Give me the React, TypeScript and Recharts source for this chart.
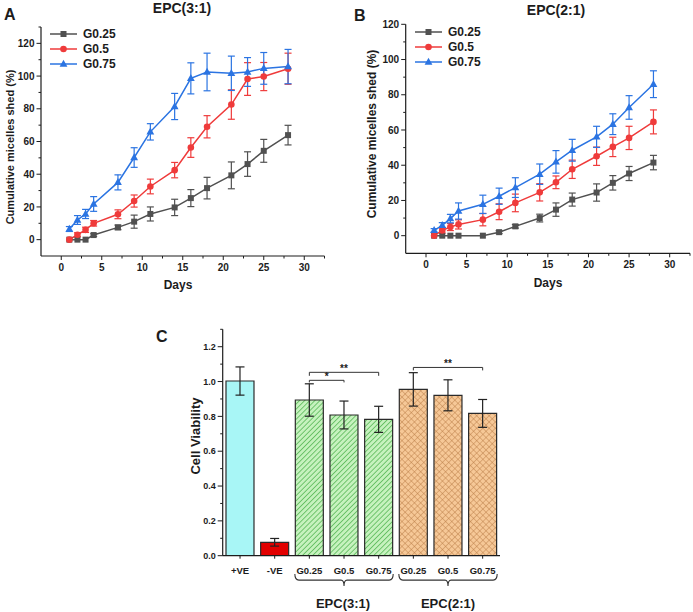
import React from "react";
import {
  LineChart,
  Line,
  XAxis,
  YAxis,
  ErrorBar,
  Legend,
  BarChart,
  Bar,
  Cell,
  ReferenceLine,
} from "recharts";

const FONT = '"Liberation Sans", Arial, sans-serif';
const INK = "#1c1c1c";

// ---- panels A / B : cumulative micelles shed ----
const DAYS = [1, 2, 3, 4, 7, 9, 11, 14, 16, 18, 21, 23, 25, 28];

const A_G025 = [0, 0, 0, 2.8, 7.5, 11, 15.7, 19.7, 25.4, 31.5, 39.3, 46.2, 54.3, 63.9];
const A_G025_ERR = [0, 0, 0, 0.8, 1.4, 4, 4.3, 5, 5.2, 6.6, 8.2, 7.5, 7, 6];
const A_G05 = [0, 3, 6, 10, 15.5, 23.6, 32.5, 42.5, 56.3, 69, 82.6, 98.2, 99.7, 104.5];
const A_G05_ERR = [0, 1.2, 1.6, 1.7, 2.7, 3.7, 4.5, 4.7, 6, 6.8, 9, 10, 8.6, 9.5];
const A_G075 = [6.5, 12, 15.7, 21.8, 35, 50.2, 65.9, 81.4, 98.6, 102.5, 101.7, 102.5, 104.7, 105.8];
const A_G075_ERR = [1.5, 2.7, 2.8, 4.5, 4.6, 6, 5, 8, 9.5, 11.5, 10.5, 8.8, 9.7, 10.5];

const B_G025 = [0, 0, 0, 0, 0, 2, 5.3, 10, 14.8, 20.5, 24.5, 30, 35.3, 41.5];
const B_G025_ERR = [0, 0, 0, 0, 0, 0.8, 1, 2.2, 3.8, 3.7, 4.9, 4.1, 4, 4.1];
const B_G05 = [0, 3, 4.9, 6.4, 9.1, 13.6, 18.6, 24.6, 30.3, 37.7, 45.1, 50.4, 55.5, 64.6];
const B_G05_ERR = [0, 1.5, 2, 2.6, 3.5, 4.5, 5, 4.9, 3.6, 5.2, 5.2, 5.5, 6.6, 6.8];
const B_G075 = [3, 5.9, 9.7, 14, 17.8, 22.4, 27.3, 34.9, 41.9, 48.5, 56.1, 63.3, 72.8, 86];
const B_G075_ERR = [1, 1.5, 2.4, 4.6, 5.2, 4.6, 5.6, 5.8, 6.4, 6.2, 6, 5.9, 6.7, 7.6];

const X_TICKS = [0, 2.5, 5, 7.5, 10, 12.5, 15, 17.5, 20, 22.5, 25, 27.5, 30, 32.5];
const A_Y_TICKS = [0, 10, 20, 30, 40, 50, 60, 70, 80, 90, 100, 110, 120, 130];
const B_Y_TICKS = [0, 10, 20, 30, 40, 50, 60, 70, 80, 90, 100, 110, 120];

const SERIES = [
  { key: "g25", name: "G0.25", color: "#515151", shape: "square" },
  { key: "g50", name: "G0.5", color: "#EF3B3B", shape: "circle" },
  { key: "g75", name: "G0.75", color: "#2B74E2", shape: "triangle" },
];

// ---- panel C : cell viability ----
const C_KEYS = ["pos", "neg", "a25", "a50", "a75", "b25", "b50", "b75"];
const C_LABELS = ["+VE", "-VE", "G0.25", "G0.5", "G0.75", "G0.25", "G0.5", "G0.75"];
const C_VALUES = [1.003, 0.077, 0.894, 0.808, 0.783, 0.955, 0.921, 0.817];
const C_ERRORS = [0.081, 0.022, 0.093, 0.08, 0.075, 0.096, 0.089, 0.08];
const C_FILLS = [
  "#A8F6F6",
  "#E20000",
  "url(#hatchGreen)",
  "url(#hatchGreen)",
  "url(#hatchGreen)",
  "url(#hatchOrange)",
  "url(#hatchOrange)",
  "url(#hatchOrange)",
];
const C_Y_TICKS = [0, 0.1, 0.2, 0.3, 0.4, 0.5, 0.6, 0.7, 0.8, 0.9, 1, 1.1, 1.2, 1.3];

const SIG = [
  { from: "a25", to: "a75", y: 1.053, drop: 0.02, text: "**" },
  { from: "a25", to: "a50", y: 1.007, drop: 0.012, text: "*" },
  { from: "b25", to: "b75", y: 1.081, drop: 0.017, text: "**" },
];
// group braces under the axis, spanning first..last bar of each group
const GROUPS = [
  { from: "a25", to: "a75", name: "EPC(3:1)" },
  { from: "b25", to: "b75", name: "EPC(2:1)" },
];
const BRACE_Y = -0.14;

function Marker({ shape, cx, cy, color }: any) {
  if (shape === "square") return <rect x={cx - 3} y={cy - 3} width={6} height={6} fill={color} />;
  if (shape === "circle") return <circle cx={cx} cy={cy} r={3.3} fill={color} />;
  return (
    <polygon
      points={`${cx},${cy - 4.3} ${cx + 3.9},${cy + 2.7} ${cx - 3.9},${cy + 2.7}`}
      fill={color}
    />
  );
}

const bottomTick =
  (isMajor: (v: any) => boolean, fmt: (v: any) => string, size: number, dy: number, majorLen = 4, minorLen = 2.5) =>
  (props: any) => {
    const { x, y, payload } = props;
    const major = isMajor(payload.value);
    return (
      <g>
        <line x1={x} x2={x} y1={y} y2={y + (major ? majorLen : minorLen)} stroke={INK} strokeWidth={1} />
        {major && (
          <text x={x} y={y + dy} textAnchor="middle" fontSize={size} fontWeight="bold" fill={INK} fontFamily={FONT}>
            {fmt(payload.value)}
          </text>
        )}
      </g>
    );
  };

const leftTick =
  (isMajor: (v: any) => boolean, fmt: (v: any) => string, size: number, gap: number, majorLen = 4.5, minorLen = 2.5) =>
  (props: any) => {
    const { x, y, payload } = props;
    const major = isMajor(payload.value);
    return (
      <g>
        <line x1={x - (major ? majorLen : minorLen)} x2={x} y1={y} y2={y} stroke={INK} strokeWidth={1} />
        {major && (
          <text x={x - gap} y={y + size * 0.36} textAnchor="end" fontSize={size} fontWeight="bold" fill={INK} fontFamily={FONT}>
            {fmt(payload.value)}
          </text>
        )}
      </g>
    );
  };

// brace drawn between two band centres, widened by half a bar on each side
const braceShape = (props: any) => {
  const { x1, x2, y1 } = props;
  const half = 14.5;
  const l = x1 - half;
  const r = x2 + half;
  const m = (x1 + x2) / 2;
  const y = y1;
  const d = `M${l},${y - 6} Q${l},${y} ${l + 4},${y} L${m - 3},${y} Q${m},${y} ${m},${y + 6} Q${m},${y} ${m + 3},${y} L${r - 4},${y} Q${r},${y} ${r},${y - 6}`;
  return <path d={d} fill="none" stroke="#333" strokeWidth={1.1} />;
};

function LegendBox() {
  return (
    <svg width={110} height={46} style={{ display: "block" }}>
      {SERIES.map((s, i) => (
        <g key={s.key} transform={`translate(0, ${i * 15 + 7})`}>
          <line x1={0} x2={27} y1={0} y2={0} stroke={s.color} strokeWidth={1.5} />
          <Marker shape={s.shape} cx={13.5} cy={0} color={s.color} />
          <text x={33} y={4.4} fontSize={12} fontWeight="bold" fill={INK} fontFamily={FONT}>
            {s.name}
          </text>
        </g>
      ))}
    </svg>
  );
}

function ShedPanel({ vals, errs, left, width, margin, yWidth, yDomain, yTicks, legendLeft, legendTop }: any) {
  const data = DAYS.map((d, i) => ({
    day: d,
    g25: vals[0][i],
    g25e: errs[0][i],
    g50: vals[1][i],
    g50e: errs[1][i],
    g75: vals[2][i],
    g75e: errs[2][i],
  }));
  return (
    <div style={{ position: "absolute", left, top: 0 }}>
      <LineChart width={width} height={300} data={data} margin={margin}>
        <XAxis
          dataKey="day"
          type="number"
          domain={[-2.5, 32.5]}
          allowDataOverflow
          ticks={X_TICKS}
          interval={0}
          height={30}
          tickSize={0}
          tickMargin={0}
          axisLine={{ stroke: INK, strokeWidth: 1.2 }}
          tickLine={false}
          tick={bottomTick((v) => v % 5 === 0, (v) => String(v), 10, 15)}
        />
        <YAxis
          type="number"
          domain={yDomain}
          allowDataOverflow
          ticks={yTicks}
          interval={0}
          width={yWidth}
          tickSize={0}
          tickMargin={0}
          axisLine={{ stroke: INK, strokeWidth: 1.2 }}
          tickLine={false}
          tick={leftTick((v) => v % 20 === 0, (v) => String(v), 10, 6.5)}
        />
        <Legend
          layout="vertical"
          align="center"
          verticalAlign="middle"
          wrapperStyle={{ left: legendLeft, top: legendTop, width: 110 }}
          content={() => <LegendBox />}
        />
        {SERIES.map((s) => (
          <Line
            key={s.key}
            dataKey={s.key}
            name={s.name}
            stroke={s.color}
            strokeWidth={1.5}
            isAnimationActive={false}
            activeDot={false}
            dot={(p: any) => <Marker key={`${s.key}-${p.index}`} shape={s.shape} cx={p.cx} cy={p.cy} color={s.color} />}
          >
            <ErrorBar dataKey={`${s.key}e`} direction="y" width={3.5} stroke={s.color} strokeWidth={1.2} />
          </Line>
        ))}
      </LineChart>
    </div>
  );
}

function ViabilityPanel() {
  const data = C_KEYS.map((k, i) => ({ key: k, label: C_LABELS[i], value: C_VALUES[i], err: C_ERRORS[i] }));
  const labelOf = (k: string) => C_LABELS[C_KEYS.indexOf(k)];
  const line = { stroke: "#333", strokeWidth: 1, ifOverflow: "visible" as const };
  return (
    <div style={{ position: "absolute", left: 150, top: 300 }}>
      <BarChart
        width={360}
        height={312}
        data={data}
        margin={{ top: 29.3, right: 10, bottom: 31.3, left: 0 }}
        barCategoryGap="9.5%"
      >
        <defs>
          <pattern id="hatchGreen" patternUnits="userSpaceOnUse" width="3.6" height="3.6" patternTransform="rotate(45)">
            <rect width="3.6" height="3.6" fill="#C6F2BE" />
            <line x1="0" y1="0" x2="0" y2="3.6" stroke="#52B552" strokeWidth="1.5" />
          </pattern>
          <pattern id="hatchOrange" patternUnits="userSpaceOnUse" width="4.4" height="4.4" patternTransform="rotate(45)">
            <rect width="4.4" height="4.4" fill="#F6C897" />
            <line x1="0" y1="0" x2="0" y2="4.4" stroke="#B97B45" strokeWidth="0.9" />
            <line x1="0" y1="0" x2="4.4" y2="0" stroke="#B97B45" strokeWidth="0.9" />
          </pattern>
        </defs>
        <XAxis
          dataKey="key"
          height={25}
          interval={0}
          tickSize={0}
          tickMargin={0}
          axisLine={{ stroke: INK, strokeWidth: 1.2 }}
          tickLine={false}
          tick={bottomTick(() => true, labelOf, 9.5, 18, 3, 3)}
        />
        <YAxis
          type="number"
          domain={[0, 1.3]}
          allowDataOverflow
          ticks={C_Y_TICKS}
          interval={0}
          width={72.7}
          tickSize={0}
          tickMargin={0}
          axisLine={{ stroke: INK, strokeWidth: 1.2 }}
          tickLine={false}
          tick={leftTick((v) => Math.round(v * 10) % 2 === 0, (v) => v.toFixed(1), 9, 7, 5, 2.5)}
        />
        <Bar dataKey="value" stroke="#2a2a2a" strokeWidth={1.2} isAnimationActive={false}>
          {data.map((d, i) => (
            <Cell key={d.key} fill={C_FILLS[i]} />
          ))}
          <ErrorBar dataKey="err" width={4.5} stroke="#222" strokeWidth={1.2} />
        </Bar>
        {SIG.map((s, i) => (
          <ReferenceLine
            key={`sig-${i}`}
            segment={[
              { x: s.from, y: s.y },
              { x: s.to, y: s.y },
            ]}
            {...line}
            label={{ value: s.text, position: "top", offset: 0, fontSize: 10, fontWeight: "bold", fill: INK, fontFamily: FONT }}
          />
        ))}
        {SIG.flatMap((s, i) =>
          [s.from, s.to].map((x) => (
            <ReferenceLine
              key={`sigd-${i}-${x}`}
              segment={[
                { x, y: s.y },
                { x, y: s.y - s.drop },
              ]}
              {...line}
            />
          ))
        )}
        {GROUPS.map((g) => (
          <ReferenceLine
            key={g.name}
            segment={[
              { x: g.from, y: BRACE_Y },
              { x: g.to, y: BRACE_Y },
            ]}
            ifOverflow="visible"
            shape={braceShape}
          />
        ))}
      </BarChart>
    </div>
  );
}

function Overlay() {
  const t = { fontFamily: FONT, fontWeight: "bold" as const, fill: INK };
  return (
    <svg width={693} height={612} style={{ position: "absolute", left: 0, top: 0, pointerEvents: "none" }}>
      <text x={4} y={20} fontSize={16} {...t}>A</text>
      <text x={182} y={13} fontSize={14} textAnchor="middle" {...t}>EPC(3:1)</text>
      <text x={178} y={289} fontSize={12} textAnchor="middle" {...t}>Days</text>
      <text transform="translate(14, 147) rotate(-90)" fontSize={11} textAnchor="middle" {...t}>
        Cumulative micelles shed (%)
      </text>

      <text x={354} y={21} fontSize={16} {...t}>B</text>
      <text x={556} y={15} fontSize={14} textAnchor="middle" {...t}>EPC(2:1)</text>
      <text x={548} y={287} fontSize={12} textAnchor="middle" {...t}>Days</text>
      <text transform="translate(376, 134) rotate(-90)" fontSize={12} textAnchor="middle" {...t}>
        Cumulative micelles shed (%)
      </text>

      <text x={156} y={342} fontSize={16} {...t}>C</text>
      <text transform="translate(200, 436) rotate(-90)" fontSize={13} textAnchor="middle" {...t}>
        Cell Viability
      </text>
      <text x={343} y={608} fontSize={13} textAnchor="middle" {...t}>EPC(3:1)</text>
      <text x={448} y={608} fontSize={13} textAnchor="middle" {...t}>EPC(2:1)</text>
    </svg>
  );
}

export default function App() {
  return (
    <div style={{ position: "absolute", left: 0, top: 0, width: 693, height: 612, background: "#fff", overflow: "hidden" }}>
      <ShedPanel
        vals={[A_G025, A_G05, A_G075]}
        errs={[A_G025_ERR, A_G05_ERR, A_G075_ERR]}
        left={0}
        width={345}
        margin={{ top: 27, right: 20.5, bottom: 14, left: 0 }}
        yWidth={41}
        yDomain={[-10, 130]}
        yTicks={A_Y_TICKS}
        legendLeft={50}
        legendTop={27}
      />
      <ShedPanel
        vals={[B_G025, B_G05, B_G075]}
        errs={[B_G025_ERR, B_G05_ERR, B_G075_ERR]}
        left={345}
        width={348}
        margin={{ top: 24.3, right: 3, bottom: 16.7, left: 0 }}
        yWidth={60.7}
        yDomain={[-10, 120]}
        yTicks={B_Y_TICKS}
        legendLeft={70}
        legendTop={25}
      />
      <ViabilityPanel />
      <Overlay />
    </div>
  );
}
